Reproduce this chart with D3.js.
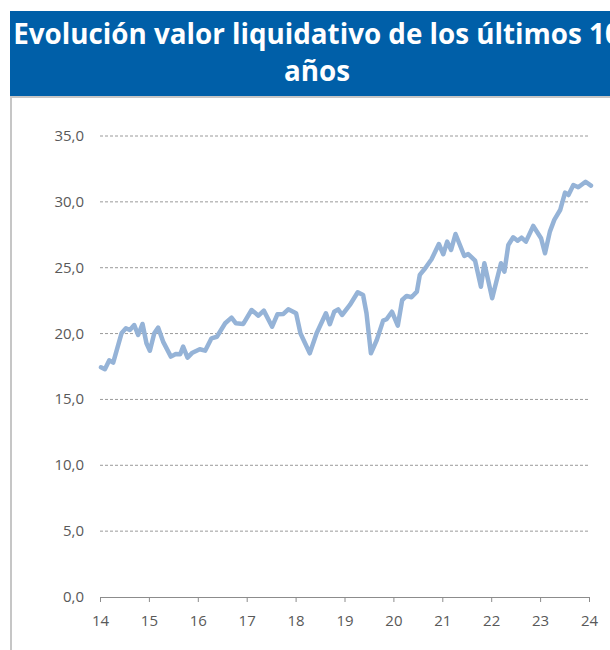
<!DOCTYPE html>
<html>
<head>
  <meta charset="utf-8">
  <title>Evolución valor liquidativo</title>
  <script src="https://d3js.org/d3.v7.min.js"></script>
  <style>
    body { margin: 0; background: #fff; }
    svg  { font-family: "Open Sans", sans-serif; }
  </style>
</head>
<body>
  <svg id="chart" width="610" height="650"></svg>

  <script>
    // fecha en años decimales (14 = 2014) y valor liquidativo
    var fechas = [14.02, 14.10, 14.19, 14.27, 14.44, 14.53, 14.61, 14.70, 14.78, 14.87, 14.95,
      15.02, 15.11, 15.19, 15.29, 15.45, 15.55, 15.64, 15.70, 15.79, 15.89,
      16.04, 16.15, 16.28, 16.39, 16.56, 16.69, 16.78, 16.93,
      17.10, 17.24, 17.35, 17.52, 17.63, 17.75, 17.85,
      18.01, 18.10, 18.29, 18.43, 18.62, 18.70, 18.79, 18.87, 18.95,
      19.11, 19.27, 19.38, 19.45, 19.54, 19.66, 19.79, 19.86, 19.97,
      20.09, 20.18, 20.27, 20.37, 20.48, 20.54, 20.65, 20.78, 20.93,
      21.02, 21.10, 21.18, 21.27, 21.45, 21.53, 21.67, 21.79, 21.86,
      22.02, 22.20, 22.27, 22.35, 22.45, 22.54, 22.62, 22.71, 22.86,
      23.02, 23.10, 23.20, 23.29, 23.41, 23.51, 23.58, 23.68, 23.78, 23.93, 24.04];
    var valores = [17.44, 17.29, 17.97, 17.79, 20.02, 20.40, 20.27, 20.65, 19.89, 20.73, 19.26,
      18.70, 20.02, 20.45, 19.39, 18.25, 18.45, 18.43, 19.01, 18.17, 18.55,
      18.81, 18.70, 19.64, 19.76, 20.78, 21.21, 20.78, 20.73,
      21.79, 21.36, 21.74, 20.52, 21.47, 21.49, 21.84,
      21.54, 20.00, 18.50, 20.02, 21.54, 20.71, 21.66, 21.84, 21.41,
      22.17, 23.14, 22.93, 21.54, 18.50, 19.51, 20.98, 21.09, 21.66,
      20.60, 22.55, 22.86, 22.76, 23.18, 24.45, 24.96, 25.64, 26.80,
      26.02, 26.98, 26.35, 27.56, 25.89, 26.04, 25.54, 23.56, 25.34,
      22.68, 25.34, 24.70, 26.73, 27.31, 27.05, 27.28, 26.98, 28.17,
      27.24, 26.10, 27.74, 28.63, 29.38, 30.70, 30.52, 31.28, 31.11, 31.53, 31.23];
    var anios = [14, 15, 16, 17, 18, 19, 20, 21, 22, 23, 24];
    var marcasY = [0, 5, 10, 15, 20, 25, 30, 35];
    var titulo = ["Evolución valor liquidativo de los últimos 10", "años"];

    var svg = d3.select("#chart");

    // cabecera azul
    svg.append("rect")
      .attr("x", 10).attr("y", 11)
      .attr("width", 600).attr("height", 85)
      .attr("fill", "#005fa8");

    var t1 = svg.append("text")
      .attr("x", 317).attr("y", 44)
      .attr("text-anchor", "middle")
      .attr("fill", "#fff")
      .attr("font-weight", "bold")
      .attr("font-size", 28)
      .text(titulo[0]);
    // ajustar el tamaño para que ocupe el ancho del original
    var w = t1.node().getComputedTextLength();
    var fs = 28 * 608 / w;
    t1.attr("font-size", fs);

    svg.append("text")
      .attr("x", 317).attr("y", 81)
      .attr("text-anchor", "middle")
      .attr("fill", "#fff")
      .attr("font-weight", "bold")
      .attr("font-size", fs)
      .text(titulo[1]);

    // marco del gráfico
    svg.append("path")
      .attr("d", "M11,650 L11,97 L610,97")
      .attr("fill", "none")
      .attr("stroke", "#c6c6c6")
      .attr("stroke-width", 2);

    var x = d3.scaleLinear().domain([14, 24]).range([100, 589]);
    var y = d3.scaleLinear().domain([0, 35]).range([597, 136]);

    // rejilla
    svg.append("g")
      .selectAll("line")
      .data(marcasY.filter(d => d > 0))
      .join("line")
      .attr("x1", x(14)).attr("x2", x(24))
      .attr("y1", d => y(d)).attr("y2", d => y(d))
      .attr("stroke", "#9a9a9a")
      .attr("stroke-width", 1)
      .attr("stroke-dasharray", "3,2");

    // eje Y (solo etiquetas)
    svg.append("g")
      .selectAll("text")
      .data(marcasY)
      .join("text")
      .attr("x", 84)
      .attr("y", d => y(d) + 5)
      .attr("text-anchor", "end")
      .attr("font-size", 15)
      .attr("fill", "#595959")
      .text(d => d3.format(".1f")(d).replace(".", ","));

    // eje X
    var ejeX = svg.append("g")
      .attr("transform", "translate(0," + y(0) + ")")
      .call(d3.axisBottom(x).tickValues(anios).tickSize(5).tickSizeOuter(0).tickPadding(13)
        .tickFormat(d3.format("d")));
    ejeX.select(".domain").attr("stroke", "#8c8c8c");
    ejeX.selectAll(".tick line").attr("stroke", "#8c8c8c");
    ejeX.selectAll(".tick text")
      .attr("font-size", 15)
      .attr("font-family", "Open Sans")
      .attr("fill", "#595959");

    // serie
    var puntos = fechas.map((f, i) => [f, valores[i]]);
    var linea = d3.line()
      .x(d => x(d[0]))
      .y(d => y(d[1]));

    svg.append("path")
      .datum(puntos)
      .attr("d", linea)
      .attr("fill", "none")
      .attr("stroke", "#95b3d7")
      .attr("stroke-width", 4.5)
      .attr("stroke-linejoin", "round")
      .attr("stroke-linecap", "round");
  </script>
</body>
</html>
